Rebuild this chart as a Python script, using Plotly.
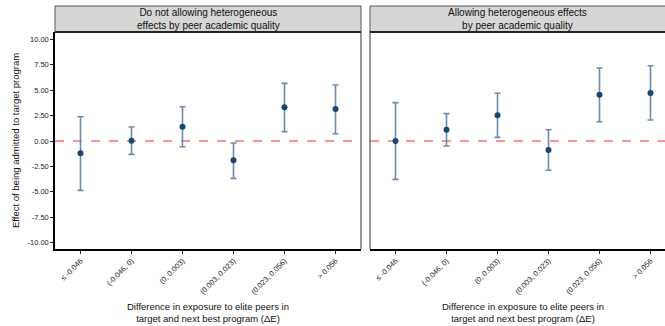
import plotly.graph_objects as go

categories = ["≤ -0.046", "(-0.046, 0)", "(0, 0.003)", "(0.003, 0.023)", "(0.023, 0.056)", "> 0.056"]
panel_titles = ["Do not allowing heterogeneous<br>effects by peer academic quality",
                "Allowing heterogeneous effects<br>by peer academic quality"]

# Panel 1: no heterogeneity
est_1 = [-1.21, 0.03, 1.41, -1.90, 3.31, 3.15]
hi_1 = [2.39, 1.38, 3.37, -0.20, 5.67, 5.51]
lo_1 = [-4.85, -1.31, -0.56, -3.67, 0.92, 0.72]

# Panel 2: heterogeneous effects
est_2 = [0.00, 1.11, 2.53, -0.89, 4.55, 4.72]
hi_2 = [3.77, 2.69, 4.69, 1.11, 7.18, 7.40]
lo_2 = [-3.77, -0.49, 0.36, -2.88, 1.90, 2.06]

y_ticks = [10, 7.5, 5, 2.5, 0, -2.5, -5, -7.5, -10]
y_ticktext = ["10.00", "7.50", "5.00", "2.50", "0.00", "-2.50", "-5.00", "-7.50", "-10.00"]

W, H = 665, 326
ML, MR, MT, MB = 55, 0, 32, 77
PW = W - ML - MR
PH = H - MT - MB

def px_to_xpaper(px):
    return (px - ML) / PW

def px_to_ypaper(py):
    return (H - MB - py) / PH

dom1 = [0, px_to_xpaper(361)]
dom2 = [px_to_xpaper(370), 1]
unit = (361 - 55) / 6.0
xr1 = [-0.5, 5.5]
xr2 = [-0.5, -0.5 + (665 - 370) / unit]
yr = [-10.62, 10.72]

BAR_COL = "#6f8aa8"
PT_COL = "#1c4670"
FONT = "Liberation Sans, Arial, sans-serif"

fig = go.Figure()
xs = list(range(len(categories)))
for est, hi, lo, xa, ya in [(est_1, hi_1, lo_1, "x", "y"), (est_2, hi_2, lo_2, "x2", "y2")]:
    fig.add_trace(go.Scatter(
        x=xs, y=est, mode="markers", xaxis=xa, yaxis=ya,
        marker=dict(color=PT_COL, size=6),
        error_y=dict(type="data", symmetric=False,
                     array=[h - e for h, e in zip(hi, est)],
                     arrayminus=[e - l for e, l in zip(est, lo)],
                     color=BAR_COL, thickness=1.6, width=3),
        showlegend=False, hoverinfo="skip"))

axis_common = dict(showgrid=False, zeroline=False, ticks="outside", ticklen=3,
                   tickcolor="#222", tickwidth=1, automargin=False,
                   tickfont=dict(family=FONT, size=7.5, color="#222"))
fig.update_layout(
    width=W, height=H,
    margin=dict(l=ML, r=MR, t=MT, b=MB, autoexpand=False),
    plot_bgcolor="white", paper_bgcolor="white",
    font=dict(family=FONT, color="#000"),
    xaxis=dict(domain=dom1, range=xr1, tickvals=xs, ticktext=categories, tickangle=-45,
               showline=True, linecolor="#000", linewidth=1.5, anchor="y", **axis_common),
    xaxis2=dict(domain=dom2, range=xr2, tickvals=xs, ticktext=categories, tickangle=-45,
                showline=True, linecolor="#000", linewidth=1.5, anchor="y2", **axis_common),
    yaxis=dict(domain=[0, 1], range=yr, tickvals=y_ticks, ticktext=y_ticktext,
               showline=True, linecolor="#000", linewidth=1.5, anchor="x", **axis_common),
    yaxis2=dict(domain=[0, 1], range=yr, showticklabels=False, ticks="", showgrid=False,
                zeroline=False, showline=False, anchor="x2"),
)

shapes = []
# zero reference lines
for xa, ya in [("x", "y"), ("x2", "y2")]:
    shapes.append(dict(type="line", xref=f"{xa} domain", yref=ya, x0=0, x1=1, y0=0, y1=0,
                       line=dict(color="#ff7070", width=1.6, dash="dash"), layer="below"))
# panel borders (gray) right of left panel, left of right panel
shapes.append(dict(type="line", xref="paper", yref="paper", x0=dom1[1], x1=dom1[1], y0=0, y1=1,
                   line=dict(color="#6e6e6e", width=1.4)))
shapes.append(dict(type="line", xref="paper", yref="paper", x0=dom2[0], x1=dom2[0], y0=0, y1=1,
                   line=dict(color="#6e6e6e", width=1.4)))
# strips
strip_top = px_to_ypaper(6)
for dom in [dom1, dom2]:
    shapes.append(dict(type="rect", xref="paper", yref="paper", x0=dom[0], x1=dom[1] + (0.01 if dom is dom2 else 0),
                       y0=1, y1=strip_top, fillcolor="#d6d6d6",
                       line=dict(color="#555", width=1)))
    shapes.append(dict(type="line", xref="paper", yref="paper", x0=dom[0], x1=dom[1],
                       y0=1, y1=1, line=dict(color="#000", width=1.5)))
fig.update_layout(shapes=shapes)

annotations = []
for dom, title in zip([dom1, dom2], panel_titles):
    annotations.append(dict(text=title, xref="paper", yref="paper", x=(dom[0] + dom[1]) / 2,
                            y=(1 + strip_top) / 2, xanchor="center", yanchor="middle",
                            showarrow=False, font=dict(family=FONT, size=10, color="#111")))
for cx in [208, 523]:
    annotations.append(dict(text="Difference in exposure to elite peers in<br>target and next best program (ΔE)",
                            xref="paper", yref="paper", x=px_to_xpaper(cx), y=px_to_ypaper(299),
                            xanchor="center", yanchor="top", showarrow=False,
                            font=dict(family=FONT, size=9.5, color="#111")))
annotations.append(dict(text="Effect of being admitted to target program", xref="paper", yref="paper",
                        x=px_to_xpaper(15), y=px_to_ypaper(141), xanchor="center", yanchor="middle",
                        textangle=-90, showarrow=False,
                        font=dict(family=FONT, size=9.5, color="#111")))
fig.update_layout(annotations=annotations)

fig.write_html("out.html", config={"displayModeBar": False},
               post_script="document.body.style.margin='0';document.body.style.padding='0';")
